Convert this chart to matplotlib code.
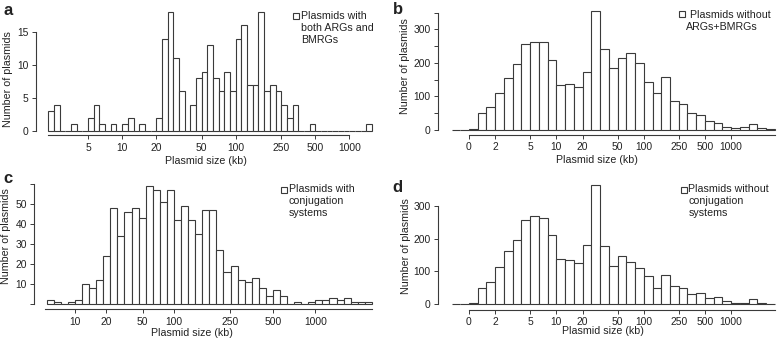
import numpy as np
import matplotlib.pyplot as plt
from matplotlib.patches import Rectangle

plt.rcParams['font.family'] = ['Liberation Sans', 'DejaVu Sans']

W, H = 778, 342
INK = '#222222'
EDGE = '#3a3a3a'

# plasmid counts per size bin
a_counts = [3, 4, 0, 0, 1, 0, 0, 2, 4, 1, 0, 1, 0, 1, 2, 0, 1, 0, 0, 2,
            14, 18, 11, 6, 0, 4, 8, 9, 13, 8, 6, 9, 6, 14, 16, 7, 7, 18, 6, 7,
            6, 4, 2, 4, 0, 0, 1, 0, 0, 0, 0, 0, 0, 0, 0, 0, 1]
b_counts = [1, 1, 4, 50, 68, 111, 155, 196, 257, 263, 261, 210, 134, 138, 127,
            174, 355, 242, 184, 214, 229, 200, 144, 111, 159, 85, 77, 51, 44,
            27, 20, 10, 6, 8, 19, 7, 2]
c_counts = [2, 1, 0, 1, 2, 10, 8, 12, 24, 48, 34, 46, 48, 43, 59, 57, 51, 57,
            42, 49, 42, 35, 47, 47, 27, 16, 19, 12, 11, 13, 8, 4, 7, 4, 0, 1,
            0, 1, 2, 2, 3, 2, 3, 1, 1, 1]
d_counts = [1, 1, 4, 50, 68, 114, 162, 197, 257, 270, 262, 212, 138, 135, 127,
            179, 364, 177, 118, 146, 128, 110, 86, 49, 89, 55, 50, 31, 33, 18,
            22, 10, 3, 5, 17, 4, 2]

# bin edges in kb (equal width in log10 space)
a_edges = 10 ** (0.35 + 0.05 * np.arange(len(a_counts) + 1))
bd_edges = 10 ** (0.1 * np.arange(-2, len(b_counts) - 1))
c_edges = 10 ** (1.1 + 0.05 * np.arange(len(c_counts) + 1))

a_xticks = [5, 10, 20, 50, 100, 250, 500, 1000]
a_xlabels = ['5', '10', '20', '50', '100', '250', '500', '1000']
bd_xticks = 10 ** np.array([0, 0.3, 0.7, 1, 1.3, 1.7, 2, 2.4, 2.7, 3])
bd_xlabels = ['0', '2', '5', '10', '20', '50', '100', '250', '500', '1000']
c_xticks = [20, 33, 60, 100, 250, 500, 1000]
c_xlabels = ['10', '20', '50', '100', '250', '500', '1000']

fig = plt.figure(figsize=(W / 100, H / 100), dpi=100)


def panel(box, edges, counts, ylim, yticks, ylabels, xticks, xlabels,
          xbounds, ybounds, offs):
    x0, x1, ytop, ybot = box
    ax = fig.add_axes([x0 / W, 1 - ybot / H, (x1 - x0) / W, (ybot - ytop) / H])
    ax.set_xscale('log')
    ax.bar(edges[:-1], counts, width=np.diff(edges), align='edge',
           color='white', edgecolor=EDGE, linewidth=0.8, clip_on=False)
    ax.set_xlim(edges[0], edges[-1])
    ax.set_ylim(*ylim)
    ax.patch.set_visible(False)
    for s in ['top', 'right']:
        ax.spines[s].set_visible(False)
    ax.spines['left'].set_position(('outward', offs[0]))
    ax.spines['bottom'].set_position(('outward', offs[1]))
    ax.spines['left'].set_bounds(*ybounds)
    ax.spines['bottom'].set_bounds(*xbounds)
    for s in ['left', 'bottom']:
        ax.spines[s].set_color(EDGE)
        ax.spines[s].set_linewidth(0.8)
    ax.set_xticks(xticks)
    ax.set_xticklabels(xlabels)
    ax.set_yticks(yticks)
    ax.set_yticklabels(ylabels)
    ax.minorticks_off()
    ax.tick_params(direction='out', length=2.9, width=0.7, color=EDGE,
                   labelsize=7.4, labelcolor=INK, pad=2.3)
    return ax


panel((48.3, 372.1, 8.9, 131), a_edges, a_counts, (0, 18.5),
      [0, 5, 10, 15], ['0', '5', '10', '15'], a_xticks, a_xlabels,
      (a_edges[0], 1000), (0, 15), (8.9, 3.1))
panel((451.5, 774.9, 9.2, 130), bd_edges, b_counts, (0, 360),
      np.arange(0, 351, 50), ['0', '', '100', '', '200', '', '300', ''],
      bd_xticks, bd_xlabels, (1, bd_edges[-1]), (0, 350), (9.9, 3.6))
panel((46.7, 371.9, 179.6, 304.3), c_edges, c_counts, (0, 62),
      np.arange(0, 61, 10), ['', '10', '20', '30', '40', '50', ''],
      c_xticks, c_xlabels, (c_edges[0] * 0.98, c_edges[-1]), (0, 60), (8.9, 3.6))
panel((451.5, 774.9, 182.7, 304.3), bd_edges, d_counts, (0, 370),
      [0, 100, 200, 300], ['0', '100', '200', '300'],
      bd_xticks, bd_xlabels, (1, bd_edges[-1]), (0, 300), (9.9, 4.1))


def ftext(x, y, s, **kw):
    kw.setdefault('color', INK)
    fig.text(x / W, 1 - y / H, s, **kw)


# panel letters
for x, y, s in [(3.3, 15, 'a'), (393.3, 14, 'b'), (3.3, 183.3, 'c'), (392.7, 191.7, 'd')]:
    ftext(x, y, s, fontsize=12, fontweight='bold', va='baseline', ha='left')

# axis titles
for x, y in [(206, 161.5), (597, 160), (192, 333.5), (603, 331)]:
    ftext(x, y, 'Plasmid size (kb)', fontsize=7.7, ha='center', va='center')
for x, y in [(8.3, 79.5), (405, 66), (6, 236), (405.8, 245.7)]:
    ftext(x, y, 'Number of plasmids', fontsize=7.7, ha='center', va='center',
          rotation=90)

# legends: open square + lines of text
legends = [
    ((293, 13), [(301, 16, 'Plasmids with'), (301, 28, 'both ARGs and'), (301, 40, 'BMRGs')]),
    ((679, 11), [(690, 15, 'Plasmids without'), (686, 26.7, 'ARGs+BMRGs')]),
    ((281, 186.7), [(288.7, 189, 'Plasmids with'), (288.7, 201, 'conjugation'), (288.7, 213.3, 'systems')]),
    ((680.7, 186.7), [(688.3, 189, 'Plasmids without'), (688.3, 201, 'conjugation'), (688.3, 213, 'systems')]),
]
for (sx, sy), lines in legends:
    fig.add_artist(Rectangle((sx / W, 1 - (sy + 6) / H), 6 / W, 6 / H,
                             transform=fig.transFigure, facecolor='white',
                             edgecolor=EDGE, linewidth=0.8))
    for x, y, s in lines:
        ftext(x, y, s, fontsize=7.7, ha='left', va='center')

fig.savefig('out.png', dpi=100)
